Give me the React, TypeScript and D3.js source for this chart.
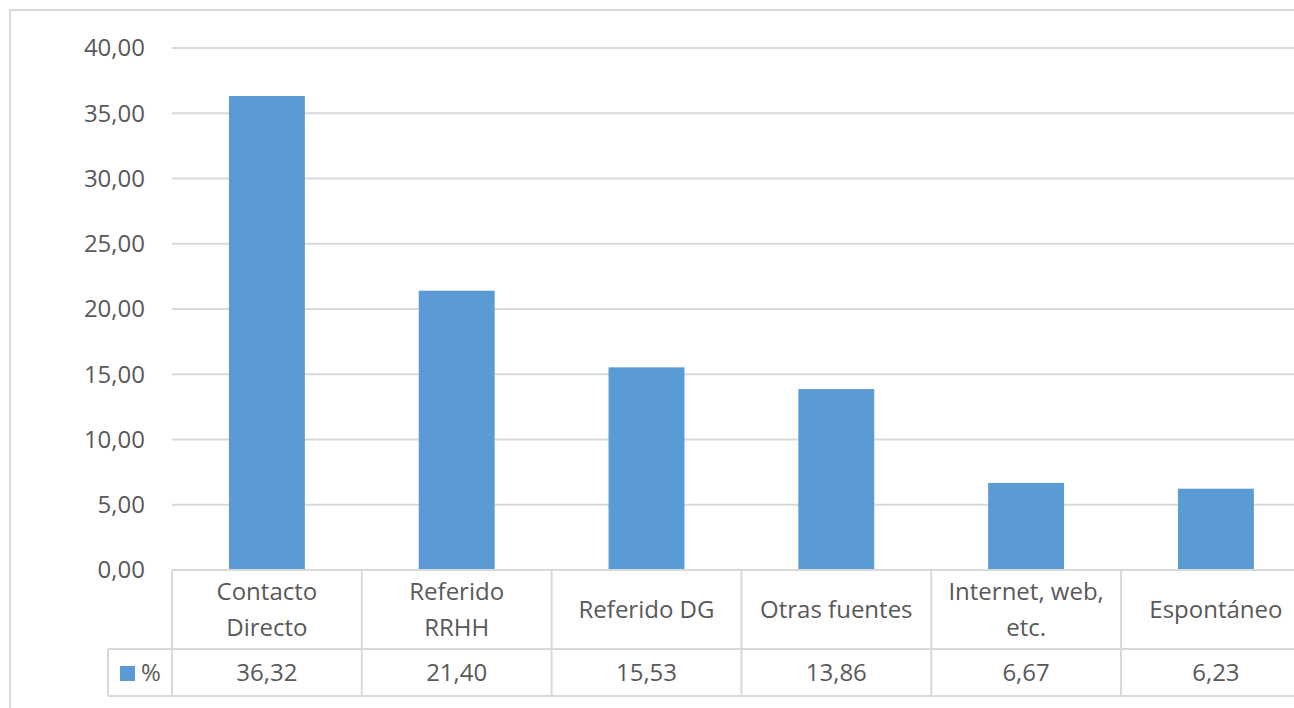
import React, { useEffect, useRef } from "react";
import * as d3 from "d3";

const categories = [
  ["Contacto", "Directo"],
  ["Referido", "RRHH"],
  ["Referido DG"],
  ["Otras fuentes"],
  ["Internet, web,", "etc."],
  ["Espontáneo"],
];
const values = [36.32, 21.4, 15.53, 13.86, 6.67, 6.23];
const yTicks = [0, 5, 10, 15, 20, 25, 30, 35, 40];
const seriesName = "%";

const W = 1294;
const H = 708;

const App = () => {
  const svgRef = useRef<SVGSVGElement | null>(null);

  useEffect(() => {
    const svg = d3.select(svgRef.current);
    svg.selectAll("*").remove();

    const grey = "#d9d9d9";
    const textCol = "#595959";
    const font = "'Open Sans', sans-serif";
    const plotLeft = 172;
    const colW = 189.8;
    const keys = categories.map((_, i) => String(i));

    const x = d3
      .scaleBand()
      .domain(keys)
      .range([plotLeft, plotLeft + colW * keys.length])
      .paddingInner(0.6)
      .paddingOuter(0.3);
    const y = d3.scaleLinear().domain([0, 40]).range([570, 48]);

    // chart frame
    svg.append("path")
      .attr("d", `M10,${H + 5} L10,10 L${W + 5},10`)
      .attr("fill", "none")
      .attr("stroke", grey)
      .attr("stroke-width", 2);

    // gridlines
    svg.append("g")
      .selectAll("line")
      .data(yTicks.slice(1))
      .enter()
      .append("line")
      .attr("x1", plotLeft)
      .attr("x2", W + 5)
      .attr("y1", (d) => y(d))
      .attr("y2", (d) => y(d))
      .attr("stroke", grey)
      .attr("stroke-width", 2);

    // y labels
    svg.append("g")
      .selectAll("text")
      .data(yTicks)
      .enter()
      .append("text")
      .attr("x", 145)
      .attr("y", (d) => y(d))
      .attr("dy", "0.35em")
      .attr("text-anchor", "end")
      .attr("font-family", font)
      .attr("font-size", 24)
      .attr("fill", textCol)
      .text((d) => d3.format(".2f")(d).replace(".", ","));

    // bars
    svg.append("g")
      .selectAll("rect")
      .data(values)
      .enter()
      .append("rect")
      .attr("x", (_, i) => x(String(i))!)
      .attr("y", (d) => y(d))
      .attr("width", x.bandwidth())
      .attr("height", (d) => y(0) - y(d))
      .attr("fill", "#5b9bd5");

    // data table
    const rowTop = 570;
    const rowMid = 649;
    const rowBot = 696;
    const tbl = svg.append("g").attr("stroke", grey).attr("stroke-width", 2);
    tbl.append("line").attr("x1", plotLeft).attr("x2", W + 5).attr("y1", rowTop).attr("y2", rowTop);
    tbl.append("line").attr("x1", 108).attr("x2", W + 5).attr("y1", rowMid).attr("y2", rowMid);
    tbl.append("line").attr("x1", 108).attr("x2", W + 5).attr("y1", rowBot).attr("y2", rowBot);
    tbl.append("line").attr("x1", 108).attr("x2", 108).attr("y1", rowMid).attr("y2", rowBot);
    tbl.selectAll("line.sep")
      .data(d3.range(keys.length + 1))
      .enter()
      .append("line")
      .attr("class", "sep")
      .attr("x1", (i) => plotLeft + i * colW)
      .attr("x2", (i) => plotLeft + i * colW)
      .attr("y1", rowTop)
      .attr("y2", rowBot);

    const cx = (i: number) => x(String(i))! + x.bandwidth() / 2;

    // category labels
    const cat = svg.append("g")
      .selectAll("text")
      .data(categories)
      .enter()
      .append("text")
      .attr("text-anchor", "middle")
      .attr("font-family", font)
      .attr("font-size", 24)
      .attr("fill", textCol);
    cat.each(function (lines, i) {
      const t = d3.select(this);
      const mid = (rowTop + rowMid) / 2;
      lines.forEach((ln, j) => {
        t.append("tspan")
          .attr("x", cx(i))
          .attr("y", mid + (j - (lines.length - 1) / 2) * 36)
          .attr("dy", "0.35em")
          .text(ln);
      });
    });

    // values row
    svg.append("g")
      .selectAll("text")
      .data(values)
      .enter()
      .append("text")
      .attr("x", (_, i) => cx(i))
      .attr("y", (rowMid + rowBot) / 2)
      .attr("dy", "0.35em")
      .attr("text-anchor", "middle")
      .attr("font-family", font)
      .attr("font-size", 24)
      .attr("fill", textCol)
      .text((d) => d3.format(".2f")(d).replace(".", ","));

    // legend key
    svg.append("rect")
      .attr("x", 120)
      .attr("y", 666)
      .attr("width", 15)
      .attr("height", 15)
      .attr("fill", "#5b9bd5");
    svg.append("text")
      .attr("x", 141)
      .attr("y", (rowMid + rowBot) / 2)
      .attr("dy", "0.35em")
      .attr("font-family", font)
      .attr("font-size", 24)
      .attr("fill", textCol)
      .text(seriesName);
  }, []);

  return (
    <div style={{ position: "fixed", left: 0, top: 0, background: "#fff" }}>
      <svg ref={svgRef} width={W} height={H} style={{ display: "block" }}></svg>
    </div>
  );
};

export default App;
